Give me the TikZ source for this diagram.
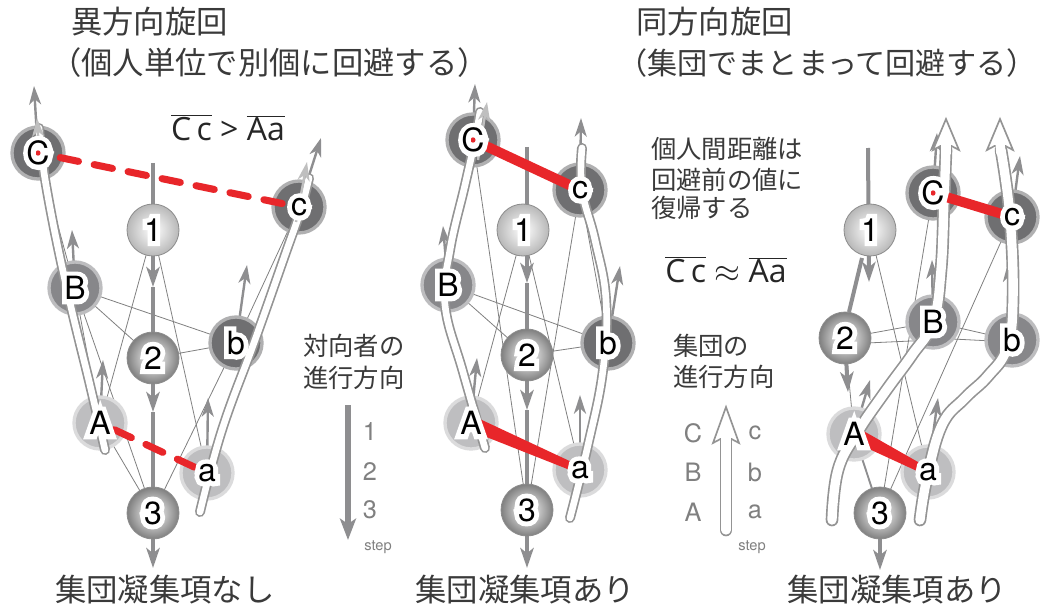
\documentclass[tikz,border=0pt]{standalone}
\usepackage{fontspec}
\usetikzlibrary{arrows.meta,calc}
\newfontfamily\jp{Noto Sans CJK JP}
\newfontfamily\hv{TeX Gyre Heros}
\newfontfamily\hvh[FakeBold=30]{TeX Gyre Heros}
\newfontfamily\osf{Open Sans}
\definecolor{cdk}{HTML}{6F6F71}
\definecolor{cmd}{HTML}{87878A}
\definecolor{clt}{HTML}{BEBEC0}
\definecolor{cline}{HTML}{808080}
\definecolor{carr}{HTML}{8E8E90}
\definecolor{cred}{HTML}{E8262A}
\definecolor{ctxt}{HTML}{3A3A3A}
\definecolor{cleg}{HTML}{808080}
\newcommand\ov[1]{$\overline{\hbox{#1}}$}
\newcommand\lab[1]{\makebox[0pt][l]{\hvh\fontsize{24}{24}\selectfont\color{white}#1}#1}
\begin{document}
\begin{tikzpicture}[x=0.75pt,y=-0.75pt,
  iline/.style={draw=cline, line width=0.6pt},
  sarr/.style={draw=carr, line width=1.8pt, -{Stealth[length=14pt,width=9pt,inset=4pt]}},
  sarrl/.style={sarr, draw=black!25},
  colarr/.style={draw=carr, line width=3pt, -{Stealth[length=15pt,width=10pt,inset=4pt]}},
  agent/.style={circle, minimum size=39pt, inner sep=0pt, fill=#1, draw=#1!55!white, line width=2.5pt},
  ballnode/.style={circle, minimum size=39pt, inner sep=0pt, shading=radial, inner color=white, outer color=#1, draw=black!45, line width=0.6pt},
  tube/.style={draw=white, line width=5pt, line cap=round, preaction={draw=black!42, line width=7.5pt, line cap=round}},
  bigtube/.style={draw=white, line width=7pt, line cap=round, preaction={draw=black!42, line width=9.5pt, line cap=round}},
  lbl/.style={font=\hv\fontsize{24}{24}\selectfont, inner sep=0pt, text=black},
  disc/.style={circle, fill=white, inner sep=0pt, minimum size=#1},
  reddot/.style={circle, fill=cred, inner sep=0pt, minimum size=4pt},
  ttl/.style={font=\jp\fontsize{23.5}{28}\selectfont, text=ctxt, anchor=west, inner sep=0pt},
  btm/.style={font=\jp\fontsize{23.5}{28}\selectfont, text=ctxt, inner sep=0pt},
  leg/.style={font=\jp\fontsize{19}{22}\selectfont, text=ctxt, anchor=west, inner sep=0pt},
  legnum/.style={font=\hv\fontsize{19}{22}\selectfont, text=cleg, inner sep=0pt},
  steptxt/.style={font=\hv\fontsize{11}{12}\selectfont, text=cleg, inner sep=0pt},
  formula/.style={font=\osf\fontsize{24}{26}\selectfont, text=black!85, inner sep=0pt},
  headshape/.style={fill=white, draw=black!42, line width=1.25pt, line join=miter}
]
\fill[white] (0,0) rectangle (1040,610);
\useasboundingbox (0,0) rectangle (1040,610);

% ---------------- titles ----------------
\node[ttl] (t1a) at (71,22) {異方向旋回};
\node[ttl] (t1b) at (50,63) {（個人単位で別個に回避する）};
\node[ttl] (t2a) at (636,22) {同方向旋回};
\node[ttl, font=\jp\fontsize{22.6}{28}\selectfont] (t2b) at (617,63) {（集団でまとまって回避する）};
\node[btm] (u1) at (165,590) {集団凝集項なし};
\node[btm] (u2) at (525,590) {集団凝集項あり};
\node[btm] (u3) at (897,590) {集団凝集項あり};

% ---------------- coordinates ----------------
\coordinate (C1) at (38,153);  \coordinate (c1) at (299,207);
\coordinate (P11) at (153,230); \coordinate (P21) at (153,358); \coordinate (P31) at (153,513);
\coordinate (B1) at (75,288);  \coordinate (b1) at (236,343);
\coordinate (A1) at (100,423); \coordinate (a1) at (207,473);

\coordinate (C2) at (473,140); \coordinate (c2) at (580,190);
\coordinate (P12) at (523,230); \coordinate (P22) at (527,355); \coordinate (P32) at (527,510);
\coordinate (B2) at (448,285); \coordinate (b2) at (608,343);
\coordinate (A2) at (471,423); \coordinate (a2) at (580,470);

\coordinate (C3) at (933,193); \coordinate (c3) at (1012,217);
\coordinate (P13) at (870,230); \coordinate (P23) at (845,338); \coordinate (P33) at (880,513);
\coordinate (B3) at (933,322); \coordinate (b3) at (1012,340);
\coordinate (A3) at (854,434); \coordinate (a3) at (928,472);

% ---------------- interaction lines ----------------
\draw[iline] (B1) -- (b1);
\draw[iline] (B1) -- (P21);
\draw[iline] (B1) -- (P31);
\draw[iline] (B1) -- (A1);
\draw[iline] (P21) -- (b1);
\draw[iline] (P11) -- (A1);
\draw[iline] (P11) -- (a1);
\draw[iline] (P31) -- (b1);
\draw[iline] (P31) -- (A1);
\draw[iline] (C1) -- (B1);
\draw[iline] (c1) -- (b1);

\draw[iline] (B2) -- (b2);
\draw[iline] (B2) -- (P22);
\draw[iline] (P22) -- (b2);
\draw[iline] (P12) -- (A2);
\draw[iline] (P12) -- (a2);
\draw[iline] (C2) -- (P32);
\draw[iline] (c2) -- (P32);
\draw[iline] (C2) -- (B2);
\draw[iline] (c2) -- (b2);

\draw[iline] (P23) -- (B3);
\draw[iline] ($(P23)+(0,6)$) -- ($(B3)+(0,18)$);
\draw[iline] (B3) -- (b3);
\draw[iline] ($(B3)+(0,16)$) -- ($(b3)+(0,2)$);
\draw[iline] (P13) -- (a3);
\draw[iline] (c3) -- (P33);
\draw[iline] (C3) -- (P33);
\draw[iline] (P23) -- (A3);
\draw[iline, line width=1.4pt, draw=carr] (A3) -- (P33);

% ---------------- velocity arrows ----------------
\draw[sarr] (C1) -- (34,86);
\draw[sarr] (c1) -- (321,138);
\draw[sarr] (B1) -- (72,230);
\draw[sarr] (b1) -- (247,265);
\draw[sarr] (A1) -- (103,360);
\draw[sarr] (a1) -- (208,398);

\draw[sarr] (C2) -- (475,84);
\draw[sarr] (c2) -- (581,118);
\draw[sarr] (B2) -- (443,226);
\draw[sarr] (b2) -- (620,266);
\draw[sarr] (A2) -- (477,358);
\draw[sarr] (a2) -- (580,395);

\draw[sarr] (C3) -- (937,133);
\draw[sarr] (c3) -- (1020,156);
\draw[sarr] (B3) -- (932,260);
\draw[sarr] (b3) -- (1008,263);
\draw[sarr] (A3) -- (870,380);
\draw[sarr] (a3) -- (938,398);

% ---------------- oncoming walker (1,2,3) ----------------
\draw[colarr] (153,163) -- (153,287);
\draw[colarr] (153,287) -- (153,412);
\draw[colarr] (153,412) -- (153,568);

\draw[colarr] (527,147) -- (527,283);
\draw[colarr] (527,283) -- (527,410);
\draw[colarr] (527,410) -- (527,568);

\draw[colarr] (868,148) -- (869,282);
\draw[draw=carr, line width=3pt] (862,258) -- (849,312);
\draw[colarr] (845,340) -- (848,392);
\draw[colarr] (P33) -- (880,570);

% ---------------- agents ----------------
\node[agent=cdk] (nC1) at (C1) {};
\node[agent=cdk] (nc1) at (c1) {};
\node[agent=cmd] (nB1) at (B1) {};
\node[agent=cdk] (nb1) at (b1) {};
\node[agent=clt] (nA1) at (A1) {};
\node[agent=clt] (na1) at (a1) {};
\node[ballnode=black!28] (n11) at (P11) {};
\node[ballnode=black!50] (n21) at (P21) {};
\node[ballnode=black!50] (n31) at (P31) {};

\node[agent=cdk] (nC2) at (C2) {};
\node[agent=cdk] (nc2) at (c2) {};
\node[agent=cmd] (nB2) at (B2) {};
\node[agent=cdk] (nb2) at (b2) {};
\node[agent=clt] (nA2) at (A2) {};
\node[agent=clt] (na2) at (a2) {};
\node[ballnode=black!28] (n12) at (P12) {};
\node[ballnode=black!50] (n22) at (P22) {};
\node[ballnode=black!50] (n32) at (P32) {};

\node[agent=cdk] (nC3) at (C3) {};
\node[agent=cdk] (nc3) at (c3) {};
\node[agent=cmd] (nB3) at (B3) {};
\node[agent=cmd] (nb3) at (b3) {};
\node[agent=clt] (nA3) at (A3) {};
\node[agent=clt] (na3) at (a3) {};
\node[ballnode=black!28] (n13) at (P13) {};
\node[ballnode=black!50] (n23) at (P23) {};
\node[ballnode=black!50] (n33) at (P33) {};

% ---------------- trajectories (tubes) ----------------
\draw[tube] plot[smooth, tension=0.7] coordinates {(105,450) (90,385) (66,285) (46,185) (39,128)};
\draw[tube] plot[smooth, tension=0.7] coordinates {(200,512) (222,430) (255,340) (285,255) (300,212) (309,178)};

\draw[tube] plot[smooth, tension=0.7] coordinates {(485,448) (463,372) (445,305) (450,250) (465,185) (475,140) (480,112)};
\draw[tube] plot[smooth, tension=0.7] coordinates {(570,518) (588,445) (603,370) (606,300) (595,240) (582,190) (582,148)};

\draw[bigtube] plot[smooth, tension=0.7] coordinates {(832,520) (838,470) (857,433) (885,392) (912,355) (933,322) (941,270) (944,200) (946,150)};
\draw[bigtube] plot[smooth, tension=0.7] coordinates {(920,520) (927,478) (942,425) (965,398) (988,376) (1007,348) (1013,300) (1010,217) (1001,150)};
\draw[headshape] (946,119) -- (959,150) -- (951.5,146) -- (940.5,146) -- (933,150) -- cycle;
\draw[white, line width=7pt] (946,154) -- (946,143);
\draw[headshape] (1000,119) -- (1013,150) -- (1005.5,146) -- (994.5,146) -- (987,150) -- cycle;
\draw[white, line width=7pt] (1001,154) -- (1000,143);

\draw[sarrl] (40,168) -- (37,118);
\draw[sarrl] (296,222) -- (307,162);
\draw[sarrl] (478,160) -- (487,102);

% ---------------- distances (red) ----------------
\draw[cred, line width=5.3pt, line cap=round, dash pattern=on 14pt off 12pt] ($(C1)!17pt!(c1)$) -- ($(c1)!12pt!(C1)$);
\draw[cred, line width=5.3pt, line cap=round, dash pattern=on 14pt off 12pt] ($(A1)!12pt!(a1)$) -- ($(a1)!8pt!(A1)$);
\draw[cred, line width=7.5pt] (C2) -- (c2);
\fill[cred] ($(A2)!5.5pt!90:(a2)$) -- ($(a2)!2.8pt!-90:(A2)$) -- ($(a2)!2.8pt!90:(A2)$) -- ($(A2)!5.5pt!-90:(a2)$) -- cycle;
\draw[cred, line width=7.5pt] (C3) -- (c3);
\fill[cred] ($(A3)!5.5pt!90:(a3)$) -- ($(a3)!2.8pt!-90:(A3)$) -- ($(a3)!2.8pt!90:(A3)$) -- ($(A3)!5.5pt!-90:(a3)$) -- cycle;

% ---------------- labels ----------------
\foreach \i in {1,2,3}{
  \node[disc=20pt] at (C\i) {};
  \node[disc=16pt] at (c\i) {};
  \node[reddot] at (C\i) {};
  \node[reddot] at (c\i) {};
  \node[lbl] at (C\i) {\lab{C}};
  \node[lbl] at (c\i) {\lab{c}};
  \node[lbl] at (B\i) {\lab{B}};
  \node[lbl] at (b\i) {\lab{b}};
  \node[lbl] at (A\i) {\lab{A}};
  \node[lbl] at (a\i) {\lab{a}};
  \node[lbl] at (P1\i) {\lab{1}};
  \node[lbl] at (P2\i) {\lab{2}};
  \node[lbl] at (P3\i) {\lab{3}};
}

% ---------------- formulas and legends ----------------
\node[formula] (f1) at (228,128) {\ov{C\,c} > \ov{Aa}};
\node[formula] (f2) at (726,270) {\ov{C\,c} $\approx$ \ov{Aa}};

\node[leg] (l1a) at (303,346) {対向者の};
\node[leg] (l1b) at (303,378) {進行方向};
\coordinate (l1s) at (348,405);
\coordinate (l1e) at (348,540);
\draw[colarr, line width=3.8pt, -{Stealth[length=16pt,width=12pt,inset=4pt]}] (l1s) -- (l1e);
\node[legnum] (k1) at (370,432) {1};
\node[legnum] (k2) at (370,472) {2};
\node[legnum] (k3) at (370,510) {3};
\node[steptxt] (st1) at (378,547) {step};

\node[leg] (m1) at (651,149) {個人間距離は};
\node[leg] (m2) at (651,180) {回避前の値に};
\node[leg] (m3) at (651,208) {復帰する};

\node[leg] (g1) at (673,346) {集団の};
\node[leg] (g2) at (673,377) {進行方向};
\coordinate (h0) at (726,530);
\coordinate (h1) at (726,440);
\draw[bigtube] (h0) -- (h1);
\draw[headshape] (726,407) -- (739,443) -- (731.5,439) -- (720.5,439) -- (713,443) -- cycle;
\draw[white, line width=7pt] (726,447) -- (726,436);
\node[legnum] (kC) at (693,433) {C};
\node[legnum] (kB) at (693,472) {B};
\node[legnum] (kA) at (693,512) {A};
\node[legnum] (kc) at (755,433) {c};
\node[legnum] (kb) at (755,472) {b};
\node[legnum] (ka) at (755,512) {a};
\node[steptxt] (st2) at (752,547) {step};
\end{tikzpicture}
\end{document}
